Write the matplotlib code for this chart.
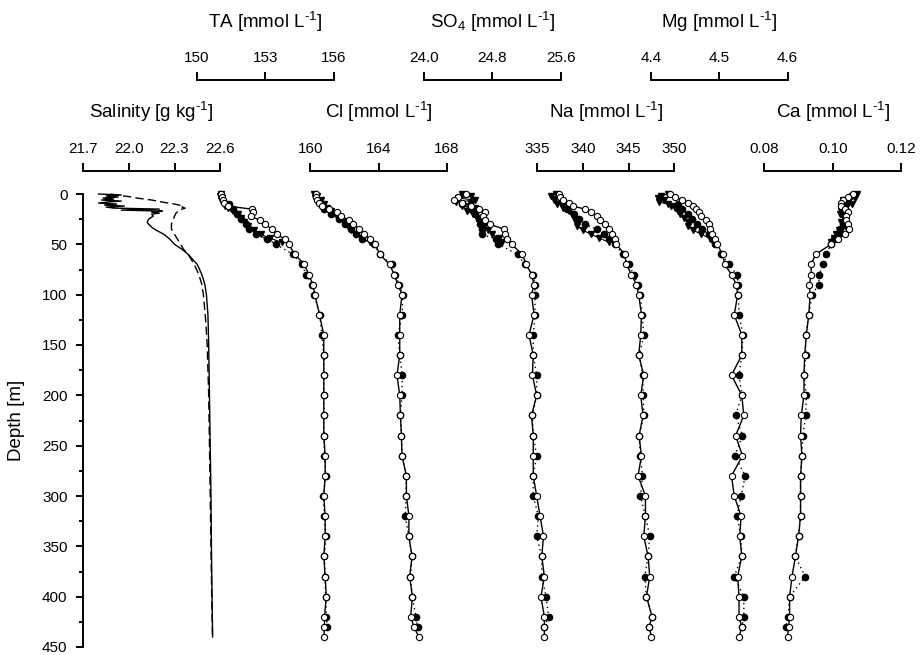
import matplotlib
matplotlib.use("Agg")
import matplotlib.pyplot as plt
from matplotlib.ticker import MultipleLocator

plt.rcParams['font.family'] = ['Liberation Sans', 'DejaVu Sans']
plt.rcParams['mathtext.fontset'] = 'custom'
plt.rcParams['mathtext.rm'] = 'Liberation Sans'
plt.rcParams['mathtext.it'] = 'Liberation Sans:italic'
plt.rcParams['mathtext.bf'] = 'Liberation Sans:bold'

# salinity profiles (CTD)
sal_depth = [0, 1, 2, 3, 4, 5, 6, 7, 8, 9, 10, 11, 12, 13, 14, 15, 16, 17, 18, 19, 20,
             22, 25, 28, 30, 33, 36, 40, 45, 50, 55, 60, 65, 70, 80, 90, 100,
             120, 150, 200, 250, 300, 350, 400, 440]
sal_solid = [21.80, 21.95, 21.85, 21.93, 21.83, 21.90, 21.82, 21.95, 21.86, 21.80, 21.92,
             21.84, 21.97, 21.85, 21.90, 22.20, 21.95, 22.22, 22.15, 22.20, 22.15,
             22.16, 22.13, 22.12, 22.13, 22.15, 22.18, 22.23, 22.27, 22.30, 22.35, 22.39,
             22.42, 22.45, 22.48, 22.50, 22.51,
             22.52, 22.525, 22.53, 22.535, 22.54, 22.543, 22.547, 22.551]
sal_dash_depth = [0, 1, 2, 3, 4, 5, 6, 8, 10, 11, 12, 13, 14, 16, 19, 22, 26, 30, 35, 40,
                  45, 50, 55, 60, 70, 80, 90, 100, 125, 150, 200, 300, 400, 440]
sal_dash = [21.88, 21.92, 21.97, 22.02, 22.05, 22.10, 22.15, 22.22, 22.30, 22.33, 22.36,
            22.35, 22.37, 22.33, 22.31, 22.30, 22.29, 22.28, 22.28, 22.30, 22.32, 22.34,
            22.36, 22.39, 22.43, 22.46, 22.48, 22.49, 22.505, 22.515, 22.525, 22.535,
            22.545, 22.55]

# sampling depths: open circles (a), filled circles (b), triangles (c)
depth_a = [0, 3, 6, 9, 12, 15, 18, 22, 26, 30, 35, 40, 45, 50, 60, 70, 80, 90, 100,
           120, 140, 160, 180, 200, 220, 240, 260, 280, 300, 320, 340, 360, 380, 400,
           420, 430, 440]
depth_b = [10, 15, 20, 25, 30, 35, 40, 45, 50, 60, 70, 80, 90, 100,
           120, 140, 160, 180, 200, 220, 240, 260, 280, 300, 320, 340, 360, 380, 400,
           420, 430]
depth_c = [0, 2, 4, 6, 8, 10, 12, 14, 17, 20, 24, 28, 32, 36, 40, 44, 48]

ta_a = [151.07, 151.10, 151.15, 151.20, 151.36, 152.40, 152.46, 152.37, 152.75, 153.00,
        153.28, 153.50, 153.88, 154.03, 154.30, 154.72, 154.91, 155.09, 155.18,
        155.38, 155.57, 155.57, 155.57, 155.57, 155.57, 155.57, 155.63, 155.63, 155.57,
        155.63, 155.63, 155.57, 155.63, 155.68, 155.60, 155.60, 155.57]
ta_b = [151.40, 151.60, 151.75, 151.95, 152.15, 152.31, 152.60, 153.10, 153.48, 154.21,
        154.60, 154.80, 155.05, 155.15,
        155.40, 155.48, 155.57, 155.57, 155.57, 155.57, 155.57, 155.60, 155.65, 155.55,
        155.60, 155.65, 155.60, 155.62, 155.65, 155.68, 155.72]
ta_c = [151.05, 151.00, 151.10, 151.05, 151.15, 151.20, 151.25, 151.35, 151.60, 151.80,
        151.95, 152.05, 152.25, 152.50, 152.80, 153.20, 153.75]

cl_a = [160.31, 160.35, 160.40, 160.50, 160.70, 161.10, 161.55, 161.80, 162.26, 162.50,
        162.85, 163.14, 163.50, 163.80, 164.06, 164.64, 164.90, 165.13, 165.36,
        165.23, 165.23, 165.23, 165.07, 165.23, 165.27, 165.33, 165.36, 165.62, 165.62,
        165.77, 165.76, 165.95, 165.81, 165.97, 165.87, 166.07, 166.34]
cl_b = [160.60, 160.80, 161.20, 161.70, 162.00, 162.40, 162.70, 163.00, 163.70, 164.10,
        164.75, 164.95, 165.20, 165.40,
        165.38, 165.13, 165.23, 165.38, 165.36, 165.27, 165.33, 165.38, 165.60, 165.60,
        165.56, 165.76, 165.95, 165.85, 165.97, 166.17, 166.27]
cl_c = [160.20, 160.40, 160.30, 160.60, 160.50, 160.80, 160.70, 161.00, 161.20, 161.50,
        161.70, 162.00, 162.20, 162.40, 162.70, 163.00, 163.50]

so4_a = [24.49, 24.40, 24.35, 24.45, 24.55, 24.65, 24.71, 24.69, 24.72, 24.77, 24.94,
         24.95, 24.97, 25.03, 25.15, 25.20, 25.26, 25.29, 25.26,
         25.29, 25.23, 25.28, 25.27, 25.32, 25.26, 25.28, 25.28, 25.28, 25.32, 25.36,
         25.40, 25.38, 25.41, 25.37, 25.41, 25.41, 25.41]
so4_b = [24.45, 24.55, 24.60, 24.65, 24.66, 24.68, 24.68, 24.85, 24.87, 25.10, 25.18,
         25.28, 25.30, 25.30,
         25.30, 25.28, 25.28, 25.32, 25.32, 25.27, 25.28, 25.32, 25.28, 25.28, 25.34,
         25.32, 25.38, 25.38, 25.43, 25.46, 25.41]
so4_c = [24.45, 24.55, 24.40, 24.60, 24.38, 24.55, 24.45, 24.60, 24.50, 24.58, 24.62,
         24.66, 24.70, 24.75, 24.80, 24.88, 24.92]

na_a = [337.37, 337.50, 337.80, 338.50, 338.95, 340.20, 340.90, 341.50, 341.90, 342.39,
        342.90, 343.20, 343.50, 343.67, 344.59, 344.77, 345.32, 345.87, 346.12,
        346.42, 346.34, 346.12, 346.67, 346.34, 346.60, 346.16, 346.42, 346.05, 346.86,
        346.86, 346.67, 347.15, 347.33, 346.97, 347.59, 347.26, 347.52]
na_b = [337.80, 338.30, 339.00, 339.60, 340.20, 341.50, 342.30, 342.90, 343.50, 344.40,
        345.00, 345.60, 346.00, 346.30,
        346.50, 346.67, 346.20, 346.55, 346.60, 346.70, 346.16, 346.30, 346.53, 346.31,
        346.86, 347.33, 347.15, 346.78, 346.97, 347.59, 347.26]
na_c = [337.00, 336.50, 337.50, 336.80, 337.80, 337.20, 338.20, 337.80, 338.50, 338.80,
        339.00, 339.20, 339.40, 340.00, 340.90, 341.80, 342.90]

mg_a = [4.428, 4.436, 4.446, 4.454, 4.461, 4.466, 4.471, 4.474, 4.480, 4.485, 4.487,
        4.490, 4.494, 4.497, 4.505, 4.508, 4.518, 4.525, 4.527,
        4.522, 4.533, 4.533, 4.518, 4.533, 4.536, 4.524, 4.534, 4.518, 4.522, 4.532,
        4.530, 4.533, 4.527, 4.529, 4.529, 4.533, 4.529]
mg_b = [4.440, 4.445, 4.455, 4.460, 4.468, 4.475, 4.485, 4.490, 4.494, 4.503, 4.514,
        4.526, 4.528, 4.528,
        4.529, 4.535, 4.533, 4.529, 4.533, 4.524, 4.534, 4.523, 4.538, 4.532, 4.526,
        4.532, 4.533, 4.522, 4.536, 4.536, 4.533]
mg_c = [4.425, 4.415, 4.410, 4.420, 4.412, 4.425, 4.430, 4.435, 4.440, 4.443, 4.448,
        4.454, 4.455, 4.462, 4.474, 4.486, 4.492]

ca_a = [0.1058, 0.1045, 0.1030, 0.1024, 0.1025, 0.1035, 0.1045, 0.1040, 0.1039, 0.1045,
        0.1048, 0.1035, 0.1015, 0.0995, 0.0950, 0.0937, 0.0937, 0.0932, 0.0934,
        0.0930, 0.0923, 0.0918, 0.0916, 0.0916, 0.0908, 0.0906, 0.0910, 0.0906, 0.0906,
        0.0906, 0.0900, 0.0891, 0.0881, 0.0874, 0.0874, 0.0871, 0.0868]
ca_b = [0.1040, 0.1035, 0.1030, 0.1035, 0.1030, 0.1020, 0.1015, 0.1005, 0.0995, 0.0981,
        0.0971, 0.0961, 0.0959, 0.0940,
        0.0930, 0.0921, 0.0921, 0.0916, 0.0923, 0.0921, 0.0913, 0.0910, 0.0906, 0.0906,
        0.0906, 0.0900, 0.0890, 0.0920, 0.0874, 0.0870, 0.0863]
ca_c = [0.1070, 0.1055, 0.1065, 0.1030, 0.1045, 0.1055, 0.1040, 0.1035, 0.1025, 0.1020,
        0.1040, 0.1025, 0.1035, 0.1018, 0.1010, 0.1005, 0.0995]

titles = [r'Salinity [g kg$^{\text{-1}}$]', r'TA [mmol L$^{\text{-1}}$]',
          r'Cl [mmol L$^{\text{-1}}$]', r'SO$_4$ [mmol L$^{\text{-1}}$]',
          r'Na [mmol L$^{\text{-1}}$]', r'Mg [mmol L$^{\text{-1}}$]',
          r'Ca [mmol L$^{\text{-1}}$]']
tick_values = [[21.7, 22.0, 22.3, 22.6], [150, 153, 156], [160, 164, 168],
               [24.0, 24.8, 25.6], [335, 340, 345, 350], [4.4, 4.5, 4.6],
               [0.08, 0.10, 0.12]]
tick_labels = [['21.7', '22.0', '22.3', '22.6'], ['150', '153', '156'],
               ['160', '164', '168'], ['24.0', '24.8', '25.6'],
               ['335', '340', '345', '350'], ['4.4', '4.5', '4.6'],
               ['0.08', '0.10', '0.12']]
profiles = [None, (ta_a, ta_b, ta_c), (cl_a, cl_b, cl_c), (so4_a, so4_b, so4_c),
            (na_a, na_b, na_c), (mg_a, mg_b, mg_c), (ca_a, ca_b, ca_c)]

# layout in pixels
W, H = 921, 655
left_px, right_px, top_px, bottom_px = 83.3, 905.0, 194.0, 647.0
slot_px, span_px = 113.5, 136.8
rect = [left_px / W, 1 - bottom_px / H, (right_px - left_px) / W,
        (bottom_px - top_px) / H]
px2pt = 72.0 / 100

fig = plt.figure(figsize=(W / 100, H / 100), dpi=100)
ax = fig.add_axes(rect)
ax.set_ylim(450, 0)
ax.set_xlim(0, 1)
for s in ['top', 'right', 'bottom']:
    ax.spines[s].set_visible(False)
ax.spines['left'].set_bounds(0, 450)
ax.spines['left'].set_linewidth(1.4)
ax.xaxis.set_visible(False)
ax.yaxis.set_major_locator(MultipleLocator(50))
ax.yaxis.set_minor_locator(MultipleLocator(25))
ax.tick_params(axis='y', which='major', length=5.3, width=1.4, pad=6, labelsize=11)
ax.tick_params(axis='y', which='minor', length=3, width=1.4)
ax.set_ylabel('Depth [m]', fontsize=13.5, labelpad=12)

for i in range(7):
    lo, hi = tick_values[i][0], tick_values[i][-1]
    px_lo = left_px + i * slot_px
    px_hi = px_lo + span_px
    scale = (hi - lo) / (px_hi - px_lo)
    a = fig.add_axes(rect, sharey=ax)
    a.patch.set_visible(False)
    a.set_xlim(lo - (px_lo - left_px) * scale, hi + (right_px - px_hi) * scale)
    a.yaxis.set_visible(False)
    for s in ['left', 'right', 'bottom']:
        a.spines[s].set_visible(False)
    if i % 2 == 0:
        spine_y = 170.7
    else:
        spine_y = 80.0
    a.spines['top'].set_position(('outward', (top_px - spine_y) * px2pt))
    a.spines['top'].set_bounds(lo, hi)
    a.spines['top'].set_linewidth(1.4)
    a.xaxis.tick_top()
    a.set_xticks(tick_values[i])
    a.set_xticklabels(tick_labels[i])
    a.tick_params(axis='x', length=6, width=1.4, pad=4.5, labelsize=11)
    a.annotate(titles[i], xy=((lo + hi) / 2, 1), xycoords=('data', 'axes fraction'),
               xytext=(0, (top_px - spine_y + 52.5) * px2pt), textcoords='offset points',
               ha='center', va='baseline', fontsize=13.5, annotation_clip=False)

    if i == 0:
        a.plot(sal_solid, sal_depth, color='k', lw=1.0, clip_on=False)
        a.plot(sal_dash, sal_dash_depth, color='k', lw=1.0, ls=(0, (6, 3)),
               clip_on=False)
        continue
    va, vb, vc = profiles[i]
    a.plot(vb, depth_b, color='k', lw=1.0, ls=(0, (1, 2.5)), marker='o', ms=4.5,
           mfc='k', mec='k', zorder=2, clip_on=False)
    a.plot(vc, depth_c, color='k', lw=0.8, marker='v', ms=5, mfc='k', mec='k',
           zorder=3, clip_on=False)
    a.plot(va, depth_a, color='k', lw=1.0, marker='o', ms=4.5, mfc='white',
           mec='k', mew=0.8, zorder=4, clip_on=False)

fig.savefig('out.png', dpi=100)
